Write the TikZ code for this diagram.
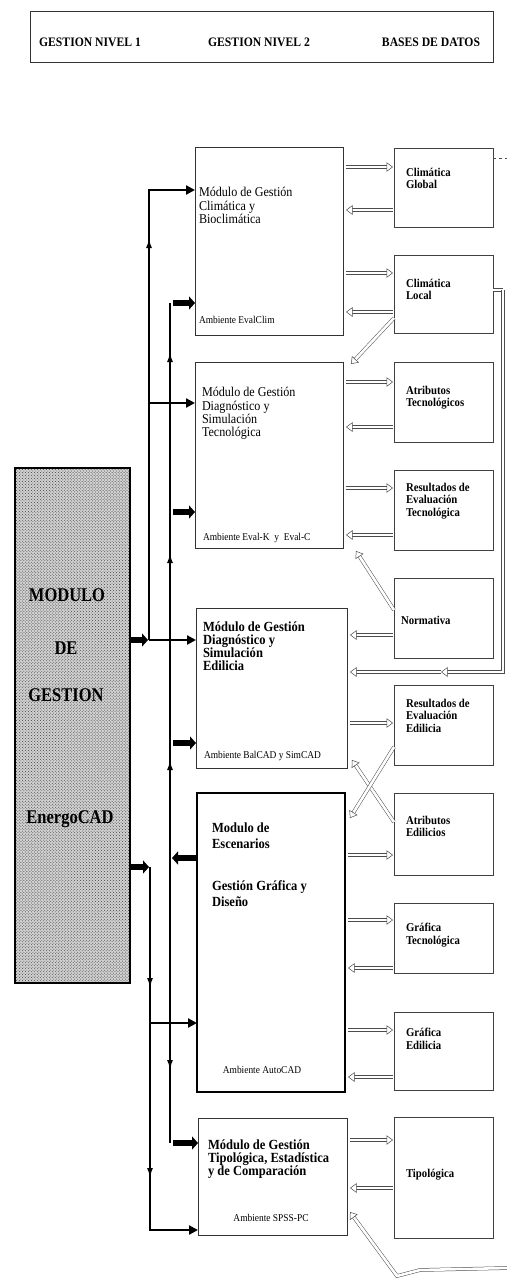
\documentclass[tikz,border=0pt]{standalone}
\usepackage{fontspec}
\setmainfont{Liberation Serif}[FakeStretch=0.9]
\newfontfamily\heavy{Liberation Serif}[UprightFont={* Bold}, FakeStretch=0.85]
\usetikzlibrary{arrows.meta,patterns,decorations.markings,calc}
\begin{document}
\begin{tikzpicture}[x=1bp, y=-1bp,
  every node/.style={inner sep=0pt, outer sep=0pt},
  mbox/.style={draw=black!80, line width=0.7bp, anchor=north west},
  dbbox/.style={draw=black!75, line width=0.6bp, anchor=north west, minimum width=99bp},
  htxt/.style={font=\fontsize{13}{14}\selectfont\bfseries, text height=8.6bp, text depth=0bp},
  bigtxt/.style={font=\fontsize{19.5}{20}\selectfont\heavy, text height=12.8bp, text depth=0bp},
  mtxt/.style={anchor=north west, align=left, font=\fontsize{13.5}{13.3}\selectfont},
  mbtxt/.style={anchor=north west, align=left, font=\fontsize{14}{13.3}\selectfont\bfseries},
  dbtxt/.style={anchor=north west, align=left, font=\fontsize{12}{13}\selectfont\bfseries},
  stxt/.style={font=\fontsize{10.5}{12}\selectfont, text height=7bp, text depth=0bp},
  hol/.style={draw=black!70, line width=0.5bp, double=white, double distance=2.6bp,
    -{Triangle[open, fill=white, length=6.5bp, width=9.5bp, line width'=0.5bp]}},
  trunk/.style={line width=2.6bp, -{Triangle[length=9bp, width=9bp]}},
  trunkplain/.style={line width=2.6bp},
  fat/.style={line width=6.5bp, -{Triangle[length=6bp, width=13bp]}},
  upmark/.style={postaction={decorate, decoration={markings,
    mark=at position #1 with {\arrow{Latex[length=10bp, width=6bp]}}}}}
]
\useasboundingbox (0,0) rectangle (507,1278);

% ---------- header ----------
\node[mbox, minimum width=463bp, minimum height=51bp] (hdr) at (30,11) {};
\node[htxt] (h1) at (90,42) {GESTION NIVEL 1};
\node[htxt] (h2) at (259,42) {GESTION NIVEL 2};
\node[htxt] (h3) at (431,42) {BASES DE DATOS};

% ---------- level 1 ----------
\node[draw, line width=1.4bp, fill=black!18, anchor=north west,
  minimum width=115bp, minimum height=515bp] (lm) at (15,468) {};
\fill[pattern=crosshatch dots, pattern color=black!75] (lm.north west) rectangle (lm.south east);
\draw[line width=1.4bp] (lm.north west) rectangle (lm.south east);
\node[bigtxt] (lm1) at (67,595) {MODULO};
\node[bigtxt] (lm2) at (66,648) {DE};
\node[bigtxt] (lm3) at (66,695) {GESTION};
\node[bigtxt] (lm4) at (70,817) {EnergoCAD};

% ---------- level 2 ----------
\node[mbox, minimum width=148bp, minimum height=188bp] (b1) at (195,147) {};
\node[mtxt] (b1t) at (199,187.5) {Módulo de Gestión\\Climática y\\Bioclimática};
\node[stxt, anchor=west] (b1a) at (199,320) {Ambiente EvalClim};

\node[mbox, minimum width=148bp, minimum height=186bp] (b2) at (195,362) {};
\node[mtxt] (b2t) at (202,387.5) {Módulo de Gestión\\Diagnóstico y\\Simulación\\Tecnológica};
\node[stxt, anchor=west] (b2a) at (203,537) {Ambiente Eval-K~~y~~Eval-C};

\node[mbox, minimum width=151bp, minimum height=160bp] (b3) at (196,608) {};
\node[mbtxt] (b3t) at (203,621.5) {Módulo de Gestión\\Diagnóstico y\\Simulación\\Edilicia};
\node[stxt, anchor=west] (b3a) at (204,755) {Ambiente BalCAD y SimCAD};

\node[mbox, draw=black, line width=1.8bp, minimum width=148bp, minimum height=299bp] (b4) at (197,793) {};
\node[mbtxt, font=\fontsize{14}{16.5}\selectfont\bfseries] (b4t) at (212,822.5)
  {Modulo de\\Escenarios\\[25bp]Gestión Gráfica y\\Diseño};
\node[stxt] (b4a) at (262,1070) {Ambiente AutoCAD};

\node[mbox, minimum width=149bp, minimum height=117bp] (b5) at (198,1118) {};
\node[mbtxt] (b5t) at (208,1139.5) {Módulo de Gestión\\Tipológica, Estadística\\y de Comparación};
\node[stxt] (b5a) at (271,1218) {Ambiente SPSS-PC};

% ---------- data bases ----------
\node[dbbox, minimum height=79bp] (cg) at (394,148) {};
\node[dbtxt] (cgt) at (406,167.7) {Climática\\Global};
\node[dbbox, minimum height=78bp] (cl) at (394,255) {};
\node[dbtxt] (clt) at (406,278.7) {Climática\\Local};
\node[dbbox, minimum height=80bp] (at) at (394,362) {};
\node[dbtxt] (att) at (406,385.7) {Atributos\\Tecnológicos};
\node[dbbox, minimum height=80bp] (ret) at (394,470) {};
\node[dbtxt] (rett) at (406,482.7) {Resultados de\\Evaluación\\Tecnológica};
\node[dbbox, minimum height=80bp] (nor) at (394,578) {};
\node[dbtxt] (nort) at (401,615.7) {Normativa};
\node[dbbox, minimum height=80bp] (ree) at (394,685) {};
\node[dbtxt] (reet) at (406,698.7) {Resultados de\\Evaluación\\Edilicia};
\node[dbbox, minimum height=82bp] (ae) at (394,793) {};
\node[dbtxt] (aet) at (406,815.7) {Atributos\\Edilicios};
\node[dbbox, minimum height=70bp] (gt) at (394,903) {};
\node[dbtxt] (gtt) at (406,922.7) {Gráfica\\Tecnológica};
\node[dbbox, minimum height=78bp] (ge) at (394,1012) {};
\node[dbtxt] (get) at (406,1027.7) {Gráfica\\Edilicia};
\node[dbbox, minimum height=121bp] (tip) at (394,1117) {};
\node[dbtxt] (tipt) at (406,1168.7) {Tipológica};

% ---------- trunk coordinates ----------
\coordinate (jA) at (149,640);
\coordinate (jAtop) at (149,190);
\coordinate (jB) at (170,858);
\coordinate (jBtop) at (170,303);
\coordinate (jBbot) at (170,1143);
\coordinate (jC) at (150,867);
\coordinate (jCbot) at (150,1230);

% line A
\draw[fat] (lm.east |- jA) -- ($(jA)+(-1,0)$);
\draw[trunk, upmark=402bp] (jA) -- (jAtop) -- (b1.west |- jAtop);
\draw[trunk] (jA |- 0,403) -- (b2.west |- 0,403);
\draw[trunk] (jA) -- (b3.west |- jA);

% line B (from Escenarios)
\draw[fat] (b4.west |- jB) -- ($(jB)+(2,0)$);
\draw[trunkplain, upmark=98bp, upmark=305bp, upmark=506bp] (jB) -- (jBtop);
\draw[trunkplain, upmark=212bp] (jB) -- (jBbot);
\draw[fat] ($(jBtop)+(3,0)$) -- (b1.west |- jBtop);
\draw[fat] ($(jB |- 0,512)+(3,0)$) -- (b2.west |- 0,512);
\draw[fat] ($(jB |- 0,743)+(3,0)$) -- (b3.west |- 0,743);
\draw[fat] ($(jBbot)+(3,0)$) -- (b5.west |- jBbot);

% line C
\draw[fat] (lm.east |- jC) -- ($(jC)+(-1,0)$);
\draw[trunk, upmark=121bp, upmark=311bp] (jC) -- (jCbot) -- (b5.west |- jCbot);
\draw[trunk] (jC |- 0,1023) -- (b4.west |- 0,1023);

% ---------- hollow arrows ----------
\draw[hol, shorten <=3bp, shorten >=1bp] (b1.east |- 0,167) -- (cg.west |- 0,167);
\draw[hol, shorten <=1bp, shorten >=3bp] (cg.west |- 0,210) -- (b1.east |- 0,210);
\draw[hol, shorten <=3bp, shorten >=1bp] (b1.east |- 0,273) -- (cl.west |- 0,273);
\draw[hol, shorten <=1bp, shorten >=3bp] (cl.west |- 0,312) -- (b1.east |- 0,312);
\draw[hol] (cl.west |- 0,318) -- ($(b2.north east)+(8,2)$);

\draw[hol, shorten <=3bp, shorten >=1bp] (b2.east |- 0,382) -- (at.west |- 0,382);
\draw[hol, shorten <=1bp, shorten >=3bp] (at.west |- 0,427) -- (b2.east |- 0,427);
\draw[hol, shorten <=3bp, shorten >=1bp] (b2.east |- 0,488) -- (ret.west |- 0,488);
\draw[hol, shorten <=1bp, shorten >=3bp] (ret.west |- 0,535) -- (b2.east |- 0,535);
\draw[hol] (nor.west |- 0,610) -- ($(b2.south east)+(13,3)$);

\draw[hol, shorten <=1bp, shorten >=3bp] (nor.west |- 0,635) -- (b3.east |- 0,635);
\coordinate (fd1) at (503,290);
\coordinate (fd2) at (503,672);
\coordinate (fmid) at (441,672);
\draw[hol, -] (cl.east |- fd1) -- (fd1);
\draw[hol] (fd1) -- (fd2) -- (fmid);
\draw[hol, shorten >=3bp] (fmid) -- (b3.east |- fmid);
\draw[hol, shorten <=3bp, shorten >=1bp] (b3.east |- 0,723) -- (ree.west |- 0,723);

\draw[hol] (ae.west |- 0,822) -- ($(b3.south east)+(5,-8)$);
\draw[hol] (ree.west |- 0,747) -- ($(b4.north east)+(5,25)$);
\draw[hol, shorten <=3bp, shorten >=1bp] (b4.east |- 0,855) -- (ae.west |- 0,855);

\draw[hol, shorten <=3bp, shorten >=1bp] (b4.east |- 0,920) -- (gt.west |- 0,920);
\draw[hol, shorten <=1bp, shorten >=3bp] (gt.west |- 0,968) -- (b4.east |- 0,968);
\draw[hol, shorten <=3bp, shorten >=1bp] (b4.east |- 0,1030) -- (ge.west |- 0,1030);
\draw[hol, shorten <=1bp, shorten >=3bp] (ge.west |- 0,1077) -- (b4.east |- 0,1077);
\draw[hol, shorten <=3bp, shorten >=1bp] (b5.east |- 0,1140) -- (tip.west |- 0,1140);
\draw[hol, shorten <=1bp, shorten >=3bp] (tip.west |- 0,1188) -- (b5.east |- 0,1188);

\coordinate (bt) at (507,1268);
\draw[hol] (bt) -- (420,1270) -- (397,1276) -- ($(b5.south east)+(3,-23)$);
\coordinate (tr) at (507,158);
\draw[draw=black!70, line width=0.6bp, dashed] (cg.east |- tr) -- (tr);
\end{tikzpicture}
\end{document}
